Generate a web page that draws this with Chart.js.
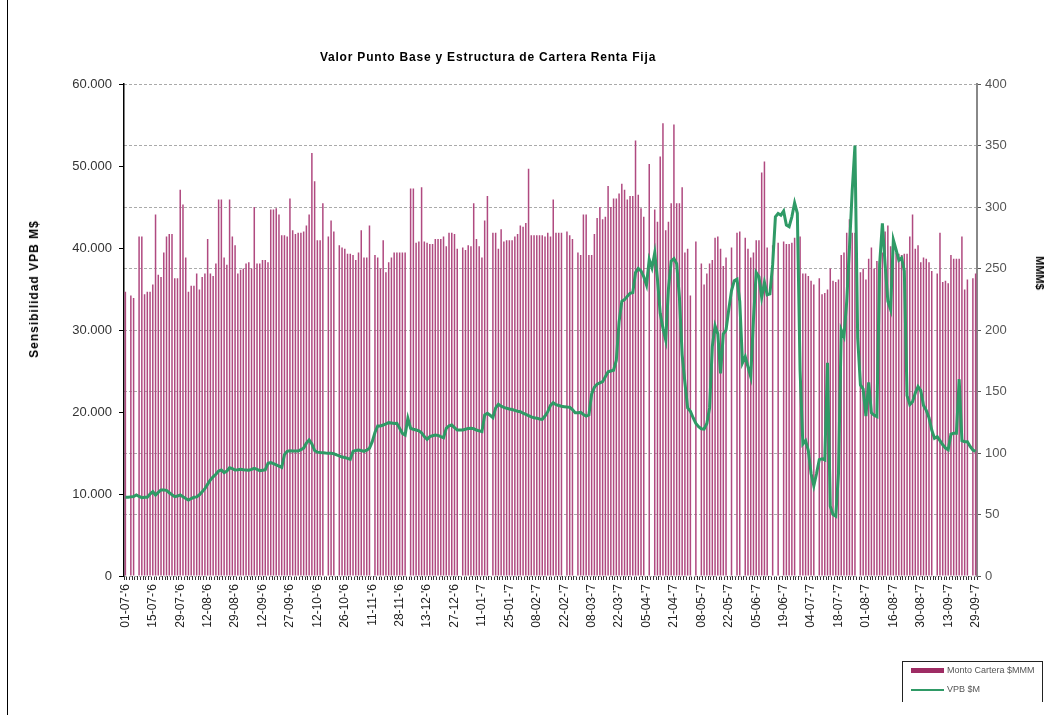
<!DOCTYPE html>
<html>
<head>
<meta charset="utf-8">
<script src="https://cdn.jsdelivr.net/npm/chart.js@4.4.0/dist/chart.umd.min.js"></script>
<style>
  body { margin: 0; background: #fff; }
  #wrap { position: relative; width: 1052px; height: 715px; overflow: hidden; font-family: 'Liberation Sans', Arial, sans-serif; }
  #frame { position: absolute; left: 7px; top: 0; width: 1px; height: 715px; background: #000; }
  #title { position: absolute; left: 0; top: 50px; width: 976px; text-align: center; font-weight: bold; font-size: 12px; letter-spacing: 0.8px; color: #000; }
  .ytitle { position: absolute; font-weight: bold; color: #000; white-space: nowrap; }
  #ytitleL { left: 34px; top: 289px; font-size: 12px; letter-spacing: 1px; transform: translate(-50%, -50%) rotate(-90deg); }
  #ytitleR { left: 1040px; top: 273px; font-size: 11px; transform: translate(-50%, -50%) rotate(90deg); }
  #legend { position: absolute; left: 902px; top: 661px; width: 139px; height: 40px; border: 1px solid #222; border-bottom: none; }
  .item { position: absolute; left: 8px; font-size: 9px; color: #555; white-space: nowrap; }
  .swatch { display: inline-block; width: 33px; vertical-align: middle; margin-right: 3px; }
</style>
</head>
<body>
<div id="wrap">
  <canvas id="c" width="1052" height="715"></canvas>
  <div id="frame"></div>
  <div id="title">Valor Punto Base y Estructura de Cartera Renta Fija</div>
  <div class="ytitle" id="ytitleL">Sensibilidad VPB M$</div>
  <div class="ytitle" id="ytitleR">MMM$</div>
  <div id="legend">
    <div class="item" style="top:3px"><span class="swatch" style="height:5px;background:#9e2c64"></span>Monto Cartera $MMM</div>
    <div class="item" style="top:22px"><span class="swatch" style="height:2px;background:#2f9a66"></span>VPB $M</div>
  </div>
</div>
<script>
// etiquetas del eje x, una cada 10 categorias
const tickLabels = ["01-07-'6", "15-07-'6", "29-07-'6", "12-08-'6", "29-08-'6", "12-09-'6", "27-09-'6", "12-10-'6",
  "26-10-'6", "11-11-'6", "28-11-'6", "13-12-'6", "27-12-'6", "11-01-'7", "25-01-'7", "08-02-'7",
  "22-02-'7", "08-03-'7", "22-03-'7", "05-04-'7", "21-04-'7", "08-05-'7", "22-05-'7", "05-06-'7",
  "19-06-'7", "04-07-'7", "18-07-'7", "01-08-'7", "16-08-'7", "30-08-'7", "13-09-'7", "29-09-'7"];

// Monto Cartera $MMM (eje derecho)
const montoCartera = [
  231, null, 228, 226, null, 276, 276, 229, 231, 231,
  237, 294, 245, 243, 263, 276, 278, 278, 242, 242,
  314, 302, 259, 231, 236, 236, 246, 233, 243, 246,
  274, 246, 244, 254, 306, 306, 259, 253, 306, 276,
  269, 246, 249, 250, 254, 255, 250, 300, 254, 254,
  257, 257, 255, 298, 298, 299, 294, 277, 277, 276,
  307, 281, 278, 279, 279,
  280, 285, 294, 344, 321, 273, 273, 303, null, 276,
  289, 280, null, 269, 267, 266, 262, 262, 261, 257,
  263, 281, 259, 259, 285, null, 261, 259, 250, 273,
  247, 255, 259, 263, 263, 263, 263, 263, null, 315,
  315, 271, 272, 316, 272, 271, 270, 270, 274, 274,
  274, 276, 268, 279, 279, 278, 266, null, 267, 265,
  269, 268, 303, 274, 268, 259, 289, 309, null, 279,
  279, 266, 282, 272, 273, 273, 273, 276, 278, 285,
  284, 287, 331, 277, 277, 277, 277, 277, 276, 279,
  276, 306, 279, 279, 279, null, 280, 277, 274, null,
  263, 261, 294, 294, 261, 261, 278,
  291, 300, 290, 292, 317, 300, 307, 307, 311, 319,
  314, 306, 309, 309, 354, 310, 299, 292, null, 335,
  null, 298, 288, 341, 368, 281, 288, 303, 367, 303,
  303, 316, 263, 266, 228, null, 272, null, 254, 237,
  246, 254, 257, 275, 276, 266, 252, 259, null, 267,
  null, 279, 280, null, 275, 266, 259, 263, 273, 273,
  328, 337, 267, null, 269, null, 271, null, 272, 270,
  270, 271, 275, null, 276, 246, 246, 244, 240, 237,
  null, 242, 229, 230, 233, 250, 240,
  239, 241, 261, 263, 279, 290, 279, 279, null, 247,
  250, 241, 258, 267, 250, 256, 256, 263, 280, 285,
  268, 267, 263, 262, 261, 262, 262, 276, 294, 266,
  269, 255, 259, 258, 255, 248, null, 246, 279, 239,
  240, 238, 261, 258, 258, 258, 276, 233, 241, null,
  242, 246
];

// VPB $M (eje izquierdo)
const vpb = [
  9600, 9600, 9650, 9700, 9880, 9700, 9550, 9600, 9600, 10000,
  10280, 9880, 10200, 10490, 10490, 10450, 10150, 9900, 9670, 9750,
  9880, 9670, 9450, 9270, 9450, 9600, 9650, 9900, 10280, 10650,
  11200, 11710, 12100, 12400, 12800, 12930, 12600, 12800, 13200, 13100,
  12930, 12950, 13010, 12950, 12930, 12900, 13000, 13130, 13000, 12850,
  12900, 12950, 13750, 13820, 13700, 13550, 13400, 13250, 14800, 15200,
  15280, 15250, 15250, 15240, 15400, 15600, 16200, 16600, 16100, 15300,
  15100, 15050, 15040, 15000, 14980, 14960, 14900, 14780, 14650, 14500,
  14450, 14350, 14230, 15200, 15300, 15370, 15300, 15200, 15350, 15570,
  16380, 17500, 18290, 18300, 18410, 18550, 18700, 18650, 18600, 18620,
  18000, 17400, 17200, 19230, 18010, 17900, 17800, 17700, 17450, 17000,
  16670, 17000, 17100, 17200, 17150, 17000, 16870, 18000, 18300, 18410,
  18100, 17800, 17800, 17800, 17900, 18000, 18010, 17950, 17800, 17700,
  17600, 19630, 19840, 19600, 19310, 20500, 20940, 20700, 20570, 20450,
  20370, 20300, 20200, 20100, 20040, 19850, 19700, 19550, 19400, 19300,
  19250, 19150, 19110, 19500, 20040, 20800, 21130, 20900, 20800, 20700,
  20650, 20600, 20570, 20300, 19920, 19920, 19950, 19700, 19500, 19630,
  22200, 23000, 23400, 23550, 23700, 24300, 24900, 25000, 25100, 26300,
  31000, 33500, 33700, 34100, 34480, 34560, 37000, 37500, 37200, 36500,
  35500, 38600, 37600, 39400, 36200, 32040, 30200, 28800, 35000, 38400,
  38700, 38100, 34000, 27000, 23600, 20500, 20100, 19300, 18600, 18200,
  17950, 17900, 18600, 20500, 28000, 30500, 29500, 24720, 29500, 30000,
  32500, 34800, 36000, 36200, 33500, 26000, 26750, 25500, 24300, 31300,
  37000, 36500, 34000, 35800, 34300, 34400, 38000, 43800, 44200, 44000,
  44500, 42800, 42600, 43800, 45500, 44230, 25000, 16100, 16500, 15300,
  12500, 11000, 12500, 14200, 14300, 14150, 26000, 8500, 7500, 7300,
  12500, 30000, 29200, 33500, 40000, 47000, 52500, 29000, 23300, 22800,
  19500, 23600, 19900, 19600, 19430, 38000, 43010, 38000, 33500, 32500,
  41000, 39800, 38500, 38800, 37200, 22000, 20900, 21250, 22300, 23090,
  22600, 20800, 20200, 19300, 17800, 16800, 16990, 16500, 16000, 15600,
  15400, 17300, 17400, 17400, 24000, 16500, 16380, 16380, 15800, 15370, 15200
];

const categories = montoCartera.map((v, i) => (i % 10 === 0 ? tickLabels[i / 10] : ''));

function miles(v) {
  return String(v).replace(/\B(?=(\d{3})+(?!\d))/g, '.');
}

Chart.defaults.font.family = "'Liberation Sans', Arial, sans-serif";

new Chart(document.getElementById('c'), {
  data: {
    labels: categories,
    datasets: [
      {
        type: 'line',
        label: 'VPB $M',
        data: vpb,
        yAxisID: 'y',
        borderColor: '#2f9a66',
        borderWidth: 3,
        pointRadius: 0,
        tension: 0,
        order: 0
      },
      {
        type: 'bar',
        label: 'Monto Cartera $MMM',
        data: montoCartera,
        yAxisID: 'y1',
        backgroundColor: '#b04a80',
        borderWidth: 0,
        categoryPercentage: 1,
        barPercentage: 0.55,
        order: 1
      }
    ]
  },
  options: {
    responsive: false,
    animation: false,
    devicePixelRatio: 1,
    layout: { padding: { top: 84, bottom: 79, left: 0, right: 0 } },
    plugins: { legend: { display: false }, tooltip: { enabled: false } },
    scales: {
      x: {
        offset: true,
        grid: { drawOnChartArea: false, drawTicks: true, tickLength: 4, color: '#333', offset: true },
        border: { display: false },
        ticks: { autoSkip: false, maxRotation: 90, minRotation: 90, padding: 4, font: { size: 12 }, color: '#222' },
        afterFit: s => { s.height = 60; }
      },
      y: {
        position: 'left',
        min: 0,
        max: 60000,
        ticks: { stepSize: 10000, callback: miles, font: { size: 13 }, color: '#333', padding: 7 },
        grid: { drawOnChartArea: false, tickLength: 5, color: '#000' },
        border: { color: '#000', width: 1.5 },
        afterFit: s => { s.width = 124; }
      },
      y1: {
        position: 'right',
        min: 0,
        max: 400,
        z: 1,
        ticks: { stepSize: 50, font: { size: 13 }, color: '#555', padding: 4 },
        grid: { color: '#aaa', tickLength: 4, tickColor: '#555' },
        border: { color: '#888', width: 2, dash: [3, 2] },
        afterFit: s => { s.width = 75; }
      }
    }
  }
});
</script>
</body>
</html>
